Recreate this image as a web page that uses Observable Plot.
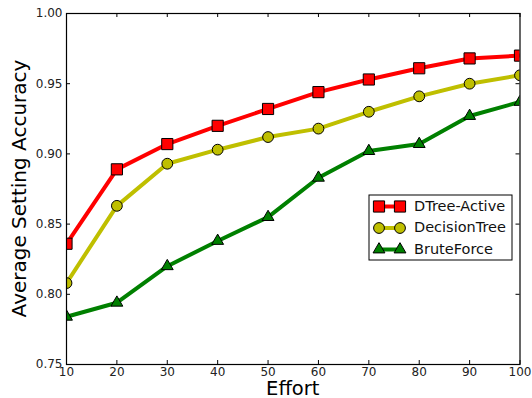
<!DOCTYPE html>
<html><head><meta charset="utf-8">
<script src="https://cdn.jsdelivr.net/npm/d3@7"></script>
<script src="https://cdn.jsdelivr.net/npm/@observablehq/plot@0.6"></script>
<style>
html,body{margin:0;padding:0;background:#fff;}
#chart{position:relative;width:532px;height:398px;}
</style>
</head><body><div id="chart"></div>
<script>
const efforts = [10, 20, 30, 40, 50, 60, 70, 80, 90, 100];
const dtreeActive = [0.836, 0.889, 0.907, 0.920, 0.932, 0.944, 0.953, 0.961, 0.968, 0.970];
const decisionTree = [0.808, 0.863, 0.893, 0.903, 0.912, 0.918, 0.930, 0.941, 0.950, 0.956];
const bruteForce = [0.784, 0.794, 0.820, 0.838, 0.855, 0.883, 0.902, 0.907, 0.927, 0.937];
const seriesNames = ["DTree-Active", "DecisionTree", "BruteForce"];
const seriesColors = ["#ff0000", "#bfbf00", "#008000"];
const seriesSymbols = ["square", "circle", "triangle"];
const seriesRadius = [6.3, 5.4, 4.4];
const xTicks = [10, 20, 30, 40, 50, 60, 70, 80, 90, 100];
const yTicks = [0.75, 0.80, 0.85, 0.90, 0.95, 1.00];

const seriesValues = [dtreeActive, decisionTree, bruteForce];
const W = 532, H = 398, mL = 66, mR = 12.5, mT = 13, mB = 34;
const innerW = W - mL - mR, innerH = H - mT - mB;
const font = "DejaVu Sans, sans-serif";

const marks = [];
seriesNames.forEach((name, i) => {
  const rows = efforts.map((e, j) => ({effort: e, value: seriesValues[i][j], series: name}));
  marks.push(Plot.line(rows, {x: "effort", y: "value", stroke: seriesColors[i], strokeWidth: 4, clip: true}));
  marks.push(Plot.dot(rows, {x: "effort", y: "value", symbol: () => seriesSymbols[i], r: seriesRadius[i],
    fill: seriesColors[i], stroke: "black", strokeWidth: 1, clip: true}));
});

const plot = Plot.plot({
  width: W, height: H,
  marginLeft: mL, marginRight: mR, marginTop: mT, marginBottom: mB,
  style: {fontFamily: font, background: "white", overflow: "visible"},
  x: {domain: [10, 100]},
  y: {domain: [0.75, 1.0]},
  symbol: {type: "identity"},
  marks: [
    ...marks,
    Plot.frame({stroke: "black", strokeWidth: 1.2}),
    // inward ticks on all four sides
    Plot.ruleX(xTicks, {x: d => d, insetTop: innerH - 4, stroke: "black"}),
    Plot.ruleX(xTicks, {x: d => d, insetBottom: innerH - 4, stroke: "black"}),
    Plot.ruleY(yTicks, {y: d => d, insetRight: innerW - 4, stroke: "black"}),
    Plot.ruleY(yTicks, {y: d => d, insetLeft: innerW - 4, stroke: "black"}),
    Plot.axisX(xTicks, {anchor: "bottom", tickSize: 0, tickPadding: 3, fontSize: 12, label: null, tickFormat: d => String(d), fill: "#222"}),
    Plot.axisY(yTicks, {anchor: "left", tickSize: 0, tickPadding: 4, fontSize: 12, label: null, tickFormat: d3.format(".2f"), fill: "#222"})
  ]
});
document.getElementById("chart").appendChild(plot);

const svg = d3.select(plot);
// axis titles
svg.append("text").attr("x", mL + innerW / 2).attr("y", 394.5).attr("text-anchor", "middle")
  .style("font", `19.5px ${font}`).text("Effort");
svg.append("text").attr("transform", `translate(20,${mT + innerH / 2}) rotate(-90)`).attr("text-anchor", "middle")
  .attr("dominant-baseline", "middle").style("font", `20px ${font}`).text("Average Setting Accuracy");

// legend
const lg = svg.append("g");
lg.append("rect").attr("x", 369).attr("y", 195).attr("width", 143).attr("height", 65)
  .attr("fill", "white").attr("stroke", "black").attr("stroke-width", 1);
const symMap = {square: d3.symbolSquare, circle: d3.symbolCircle, triangle: d3.symbolTriangle};
seriesNames.forEach((name, i) => {
  const cy = 206.5 + i * 21.5;
  lg.append("line").attr("x1", 379).attr("x2", 400).attr("y1", cy).attr("y2", cy)
    .attr("stroke", seriesColors[i]).attr("stroke-width", 4);
  [379, 400].forEach(cx => {
    lg.append("path").attr("transform", `translate(${cx},${cy})`)
      .attr("d", d3.symbol(symMap[seriesSymbols[i]], Math.PI * seriesRadius[i] ** 2)())
      .attr("fill", seriesColors[i]).attr("stroke", "black").attr("stroke-width", 1);
  });
  lg.append("text").attr("x", 414).attr("y", cy).attr("text-anchor", "start").attr("dominant-baseline", "middle")
    .style("font", `14.5px ${font}`).attr("fill", "#111").text(name);
});
</script>
</body></html>
